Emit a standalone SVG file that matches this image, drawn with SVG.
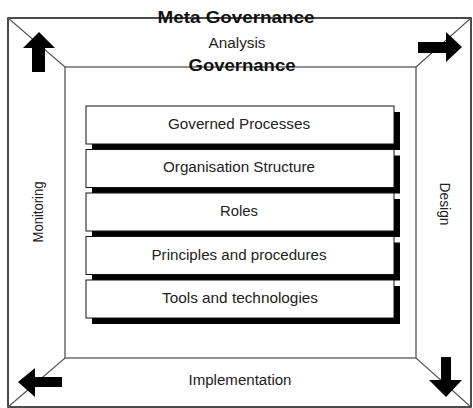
<svg xmlns="http://www.w3.org/2000/svg" width="473" height="408" viewBox="0 0 473 408">
<style>
.t{font-family:"Liberation Sans",Arial,sans-serif;font-size:14px;fill:#222}
.b{font-family:"Liberation Sans",Arial,sans-serif;font-size:16px;font-weight:bold;fill:#111}
.box{fill:#fff;stroke:#111;stroke-width:1}
.sh{fill:#000}
.frame{fill:none;stroke:#111;stroke-width:1.5}
.inner{fill:none;stroke:#555;stroke-width:1.3}
.diag{stroke:#555;stroke-width:1.1}
.arr{fill:#000}
</style>
<rect width="473" height="408" fill="#fff"/>
<g id="frame">
<rect class="frame" x="8" y="18" width="463" height="389"/>
<rect class="inner" x="65" y="67" width="351" height="291"/>
</g>
<g id="connectors">
<line class="diag" x1="8" y1="18" x2="65" y2="67"/>
<line class="diag" x1="471" y1="18" x2="416" y2="67"/>
<line class="diag" x1="8" y1="407" x2="65" y2="358"/>
<line class="diag" x1="471" y1="407" x2="416" y2="358"/>
</g>
<g id="arrows">
<polygon class="arr" points="39,32 55,48 45,48 45,72 32,72 32,48 23,48"/>
<polygon class="arr" points="462,47 446,32 446,42 418,42 418,53 446,53 446,62"/>
<polygon class="arr" points="18,382 35,368 35,377 62,377 62,387 35,387 35,397"/>
<polygon class="arr" points="446,397 462,380 451,380 451,357 441,357 441,380 429,380"/>
</g>
<g id="labels">
<text class="b" x="236" y="23" text-anchor="middle" textLength="157" lengthAdjust="spacingAndGlyphs">Meta Governance</text>
<text class="t" x="237" y="48" text-anchor="middle" textLength="57" lengthAdjust="spacingAndGlyphs">Analysis</text>
<text class="b" x="242" y="71" text-anchor="middle" textLength="107" lengthAdjust="spacingAndGlyphs">Governance</text>
<text class="t" x="240" y="385" text-anchor="middle" textLength="103" lengthAdjust="spacingAndGlyphs">Implementation</text>
<text class="t" transform="translate(43,212) rotate(-90)" text-anchor="middle" textLength="61" lengthAdjust="spacingAndGlyphs">Monitoring</text>
<text class="t" transform="translate(440,204) rotate(90)" text-anchor="middle" textLength="43" lengthAdjust="spacingAndGlyphs">Design</text>
</g>
<g id="node-governed-processes">
<rect class="sh" x="92" y="112" width="308" height="38"/>
<rect class="box" x="86" y="106" width="308" height="38"/>
<text class="t" x="239" y="129" text-anchor="middle" textLength="142" lengthAdjust="spacingAndGlyphs">Governed Processes</text>
</g>
<g id="node-organisation-structure">
<rect class="sh" x="92" y="155.5" width="308" height="38"/>
<rect class="box" x="86" y="149.5" width="308" height="38"/>
<text class="t" x="239" y="172" text-anchor="middle" textLength="152" lengthAdjust="spacingAndGlyphs">Organisation Structure</text>
</g>
<g id="node-roles">
<rect class="sh" x="92" y="199" width="308" height="38"/>
<rect class="box" x="86" y="193" width="308" height="38"/>
<text class="t" x="239" y="215.5" text-anchor="middle" textLength="38" lengthAdjust="spacingAndGlyphs">Roles</text>
</g>
<g id="node-principles">
<rect class="sh" x="92" y="242.5" width="308" height="38"/>
<rect class="box" x="86" y="236.5" width="308" height="38"/>
<text class="t" x="239" y="259.5" text-anchor="middle" textLength="175" lengthAdjust="spacingAndGlyphs">Principles and procedures</text>
</g>
<g id="node-tools">
<rect class="sh" x="92" y="286" width="308" height="38"/>
<rect class="box" x="86" y="280" width="308" height="38"/>
<text class="t" x="240" y="302.5" text-anchor="middle" textLength="156" lengthAdjust="spacingAndGlyphs">Tools and technologies</text>
</g>
</svg>
